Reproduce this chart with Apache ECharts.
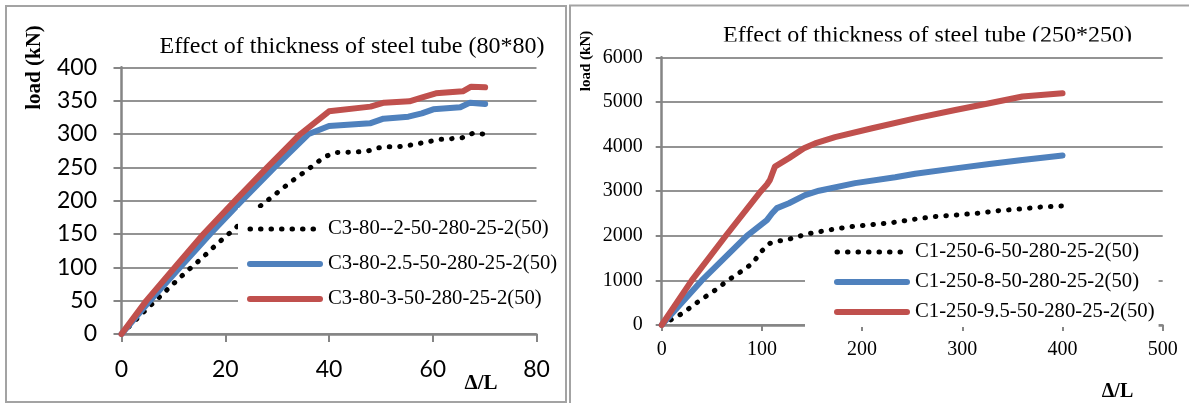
<!DOCTYPE html>
<html>
<head>
<meta charset="utf-8">
<title>Effect of thickness of steel tube</title>
<script src="https://cdn.jsdelivr.net/npm/echarts@6.0.0/dist/echarts.min.js"></script>
<style>
    html, body { margin: 0; padding: 0; background: #fff; }
    #main { width: 1189px; height: 403px; }
</style>
</head>
<body>
<div id="main"></div>
<script>
// series names (legend)
var namesSmall = ['C3-80--2-50-280-25-2(50)', 'C3-80-2.5-50-280-25-2(50)', 'C3-80-3-50-280-25-2(50)'];
var namesBig = ['C1-250-6-50-280-25-2(50)', 'C1-250-8-50-280-25-2(50)', 'C1-250-9.5-50-280-25-2(50)'];

// axis ticks: min, max, step
var ticksSmallX = [0, 80, 20];
var ticksSmallY = [0, 400, 50];
var ticksBigX = [0, 500, 100];
var ticksBigY = [0, 6000, 1000];

// 80*80 tube, [Δ/L, load kN]
var c3_2 = [[0,0],[4.8,37],[9,68],[12.3,92],[15.4,113],[18.4,135],[21.4,155],[26.1,188],[29.4,208],[32.6,228],[35.8,246],[39,265],[41,272],[45.2,273],[47.3,274],[49.4,279],[51.3,281],[53.4,281],[55.5,283],[57.5,286],[59.5,289],[61.6,292],[63.7,293],[65.7,294.5],[67.7,301],[69.8,300]];
var c3_25 = [[0,0],[5.5,50],[11.3,100],[17.1,150],[23.2,200],[29.5,250],[36.1,300],[40,312],[47.9,316],[50.5,323],[55.3,326],[57.9,331],[60.1,337],[65.3,340],[67.2,347],[70.1,345]];
var c3_3 = [[0,0],[4.8,50],[10.3,100],[15.8,150],[21.9,200],[28.1,250],[34.5,300],[40,334],[48,341],[50.6,347],[55.5,349],[58,355],[60.6,361],[65.8,364],[67.4,371],[70.1,370]];

// 250*250 tube
var c1_6 = [[0,0],[21,265],[38.7,560],[56,820],[64,970],[81.5,1233],[91,1390],[99,1640],[108,1830],[116,1880],[125,1910],[145,2040],[167,2130],[187,2200],[208,2245],[230,2295],[252,2370],[272,2430],[293,2465],[315,2505],[337,2565],[358,2600],[379,2645],[400,2668]];
var c1_8 = [[0,0],[40,1000],[85,2000],[105,2350],[110,2500],[115,2620],[127,2730],[143,2910],[157,3010],[193,3180],[233,3310],[253,3390],[293,3510],[327,3610],[360,3700],[400,3800]];
var c1_95 = [[0,0],[30,1000],[64,2000],[99,3000],[105,3150],[108,3250],[113,3550],[127,3740],[142,3960],[153,4070],[173,4210],[210,4410],[253,4630],[293,4820],[327,4970],[360,5120],[400,5195]];

var myChart = echarts.init(document.getElementById('main'));

var axisGray = '#858585';
var gridGray = '#939393';
var blue = '#4f81bd';
var red = '#c0504d';
var colors = ['#000', blue, red];

var solidStyle = function (c) { return { color: c, width: 6, type: 'solid', cap: 'round', join: 'round' }; };
var dotStyle = { color: '#000', width: 5, type: [0.5, 10], cap: 'round' };

function makeAxis(grid, t, font, size, margin, tickLen, split) {
    return {
        gridIndex: grid,
        type: 'value',
        min: t[0],
        max: t[1],
        interval: t[2],
        axisLine: { show: true, onZero: false, lineStyle: { color: axisGray, width: 2.5 } },
        axisTick: { show: true, length: tickLen, lineStyle: { color: axisGray, width: 2 } },
        axisLabel: {
            margin: margin, color: '#000', fontFamily: font, fontSize: size,
            formatter: function (v) { return String(v); }
        },
        splitLine: { show: split, lineStyle: { color: gridGray, width: 2 } }
    };
}

function makeLine(name, data, xi, k) {
    return {
        name: name,
        type: 'line',
        xAxisIndex: xi,
        yAxisIndex: xi,
        data: data,
        symbol: 'none',
        animation: false,
        silent: true,
        itemStyle: { color: colors[k] },
        lineStyle: k === 0 ? dotStyle : solidStyle(colors[k])
    };
}

function makeLegend(names, left, top, gap, pad) {
    var items = [];
    for (var i = 0; i < names.length; i++) {
        items.push({
            name: names[i],
            itemStyle: { color: 'rgba(0,0,0,0)', borderWidth: 0 },
            lineStyle: i === 0 ? dotStyle : solidStyle(colors[i])
        });
    }
    return {
        data: items,
        orient: 'vertical',
        left: left,
        top: top,
        itemWidth: 70,
        itemHeight: 14,
        itemGap: gap,
        padding: pad,
        backgroundColor: '#fff',
        selectedMode: false,
        textStyle: { fontFamily: 'Liberation Serif', fontSize: 20.7, color: '#000', lineHeight: 24, padding: [0, 0, 0, 3] }
    };
}

function txt(text, x, y, size, bold, rot) {
    return {
        type: 'text',
        x: x,
        y: y,
        rotation: rot || 0,
        z: 50,
        style: {
            text: text,
            fontFamily: 'Liberation Serif',
            fontSize: size,
            fontWeight: bold ? 'bold' : 'normal',
            fill: '#000',
            align: 'center',
            verticalAlign: 'middle'
        }
    };
}

var option = {
    backgroundColor: '#fff',
    animation: false,
    grid: [
        { left: 121.5, top: 67.3, width: 415, height: 266.7 },
        { left: 661.7, top: 57.3, width: 501, height: 267.7 }
    ],
    xAxis: [
        makeAxis(0, ticksSmallX, 'Lato', 23, 24, 8, false),
        makeAxis(1, ticksBigX, 'Liberation Serif', 20, 15, 6, false)
    ],
    yAxis: [
        makeAxis(0, ticksSmallY, 'Lato', 23, 24.5, 8, true),
        makeAxis(1, ticksBigY, 'Liberation Serif', 20, 19, 6, true)
    ],
    legend: [
        makeLegend(namesSmall, 238, 208, 11, [9, 4, 7, 9]),
        makeLegend(namesBig, 805, 238, 6, [2, 4, 3, 29])
    ],
    graphic: [
        { type: 'rect', z: 1, shape: { x: 6, y: 6, width: 560, height: 396 }, style: { fill: null, stroke: '#a3a3a3', lineWidth: 2 } },
        { type: 'rect', z: 1, shape: { x: 570, y: 5.5, width: 640, height: 400 }, style: { fill: null, stroke: '#a3a3a3', lineWidth: 2 } },
        txt('Effect of thickness of steel tube (80*80)', 352, 47, 24, false),
        txt('Effect of thickness of steel tube (250*250)', 927.5, 35.5, 24, false),
        // the right title is cut off at its bottom in the original
        { type: 'rect', z: 60, shape: { x: 700, y: 41.5, width: 460, height: 12 }, style: { fill: '#fff' } },
        txt('load (kN)', 34.5, 67.5, 21, true, Math.PI / 2),
        txt('load (kN)', 586, 61, 15, true, Math.PI / 2),
        txt('\u0394/L', 481, 384, 21, true),
        txt('\u0394/L', 1117.5, 391.5, 20, true)
    ],
    series: [
        makeLine(namesSmall[0], c3_2, 0, 0),
        makeLine(namesSmall[1], c3_25, 0, 1),
        makeLine(namesSmall[2], c3_3, 0, 2),
        makeLine(namesBig[0], c1_6, 1, 0),
        makeLine(namesBig[1], c1_8, 1, 1),
        makeLine(namesBig[2], c1_95, 1, 2)
    ]
};

myChart.setOption(option);
window.onresize = myChart.resize;
</script>
</body>
</html>
